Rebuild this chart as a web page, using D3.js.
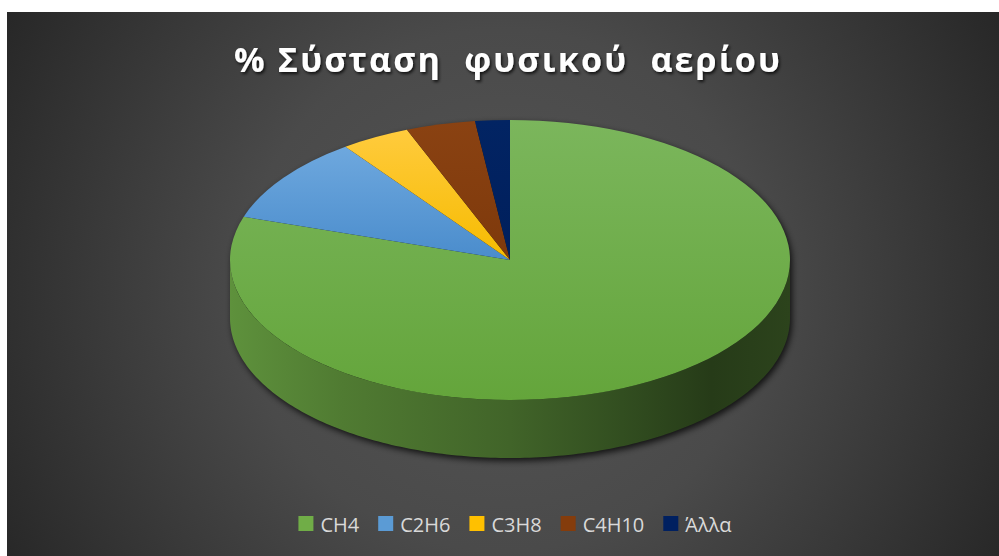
<!DOCTYPE html>
<html>
<head>
<meta charset="utf-8">
<script src="https://cdn.jsdelivr.net/npm/d3@7"></script>
<style>
  html, body { margin: 0; padding: 0; background: #ffffff; }
  svg { display: block; }
</style>
</head>
<body>
<svg id="chart" width="999" height="556"></svg>
<script>
// Natural gas composition (%)
const categories = ["CH4", "C2H6", "C3H8", "C4H10", "Άλλα"];
const values = [80, 10, 4, 4, 2];
const colors = ["#70ad47", "#5b9bd5", "#ffc000", "#843c0c", "#002060"];
const topLight = ["#7bb65c", "#6ea8de", "#ffcb3d", "#8a4212", "#022463"];
const topDark = ["#64a53b", "#4a8ccc", "#f6bb00", "#7e390b", "#001f5c"];
const title = "% Σύσταση  φυσικού  αερίου";

const W = 999, H = 556;
const area = { x: 7, y: 12, w: W - 7, h: H - 12 };
const pie3d = { cx: 510, cy: 260, rx: 280, ry: 140, depth: 58 };

// brightness of the side wall from left to right (lit from the left)
const sideShade = [[0, 0.84], [0.2, 0.71], [0.5, 0.58], [0.7, 0.45], [0.86, 0.34], [1, 0.39]];

const svg = d3.select("#chart");
const defs = svg.append("defs");

// background gradient
const bg = defs.append("radialGradient").attr("id", "bg")
  .attr("gradientUnits", "userSpaceOnUse")
  .attr("cx", 503).attr("cy", 290).attr("r", 580);
bg.append("stop").attr("offset", 0).attr("stop-color", "#555555");
bg.append("stop").attr("offset", 0.45).attr("stop-color", "#4a4a4a");
bg.append("stop").attr("offset", 1).attr("stop-color", "#262626");

svg.append("rect")
  .attr("x", area.x).attr("y", area.y)
  .attr("width", area.w).attr("height", area.h)
  .attr("fill", "url(#bg)");

// filters
const blur = defs.append("filter").attr("id", "pieShadow")
  .attr("x", "-10%").attr("y", "-10%").attr("width", "120%").attr("height", "130%");
blur.append("feGaussianBlur").attr("stdDeviation", 3);

const tShadow = defs.append("filter").attr("id", "titleShadow")
  .attr("x", "-5%").attr("y", "-30%").attr("width", "110%").attr("height", "160%");
tShadow.append("feDropShadow")
  .attr("dx", 1.5).attr("dy", 2).attr("stdDeviation", 1.5)
  .attr("flood-color", "#000").attr("flood-opacity", 0.75);

// title
svg.append("text")
  .attr("x", 507).attr("y", 72)
  .attr("text-anchor", "middle")
  .attr("font-family", "'Open Sans', 'Noto Sans', sans-serif")
  .attr("font-weight", 700)
  .attr("font-size", 34)
  .attr("fill", "#ffffff")
  .attr("textLength", 546)
  .attr("lengthAdjust", "spacing")
  .style("white-space", "pre")
  .attr("filter", "url(#titleShadow)")
  .text(title);

// pie geometry
const arcs = d3.pie().value(d => d).sort(null).startAngle(0).endAngle(2 * Math.PI)(values);
const proj = (a, dy = 0) => [pie3d.cx + pie3d.rx * Math.sin(a), pie3d.cy - pie3d.ry * Math.cos(a) + dy];
const line = d3.line();
const step = Math.PI / 180;

function sampled(a0, a1, dy) {
  const n = Math.max(2, Math.ceil((a1 - a0) / step));
  return d3.range(n + 1).map(i => proj(a0 + (a1 - a0) * i / n, dy));
}

// soft shadow under the cake
const silhouette = sampled(-Math.PI / 2, Math.PI / 2, 0)
  .concat(sampled(Math.PI / 2, 3 * Math.PI / 2, pie3d.depth));
svg.append("path")
  .attr("d", line(silhouette) + "Z")
  .attr("transform", "translate(2,3)")
  .attr("fill", "#000")
  .attr("opacity", 0.75)
  .attr("filter", "url(#pieShadow)");

// gradients for side walls and top faces
arcs.forEach((d, i) => {
  const c = d3.rgb(colors[i]);
  const g = defs.append("linearGradient").attr("id", "side" + i)
    .attr("gradientUnits", "userSpaceOnUse")
    .attr("x1", pie3d.cx - pie3d.rx).attr("x2", pie3d.cx + pie3d.rx)
    .attr("y1", 0).attr("y2", 0);
  sideShade.forEach(([o, f]) => {
    g.append("stop").attr("offset", o)
      .attr("stop-color", d3.rgb(c.r * f, c.g * f, c.b * f).formatHex());
  });

  const t = defs.append("linearGradient").attr("id", "top" + i)
    .attr("x1", 0).attr("y1", 0).attr("x2", 0).attr("y2", 1);
  t.append("stop").attr("offset", 0).attr("stop-color", topLight[i]);
  t.append("stop").attr("offset", 1).attr("stop-color", topDark[i]);
});

// outer side walls: only the front half (PI/2 .. 3PI/2) is visible
const sides = svg.append("g");
arcs.forEach((d, i) => {
  const a0 = Math.max(d.startAngle, Math.PI / 2);
  const a1 = Math.min(d.endAngle, 3 * Math.PI / 2);
  if (a1 <= a0) return;
  const pts = sampled(a0, a1, 0).concat(sampled(a0, a1, pie3d.depth).reverse());
  sides.append("path")
    .attr("d", line(pts) + "Z")
    .attr("fill", `url(#side${i})`);
});

// top faces
const arcGen = d3.arc().innerRadius(0).outerRadius(pie3d.rx);
svg.append("g")
  .attr("transform", `translate(${pie3d.cx},${pie3d.cy}) scale(1,${pie3d.ry / pie3d.rx})`)
  .selectAll("path")
  .data(arcs)
  .join("path")
  .attr("d", arcGen)
  .attr("fill", (d, i) => `url(#top${i})`);

// legend
const legend = svg.append("g");
const items = legend.selectAll("g").data(categories).join("g");
items.append("rect")
  .attr("width", 15).attr("height", 15)
  .attr("y", 516)
  .attr("fill", (d, i) => colors[i]);
items.append("text")
  .attr("x", 22).attr("y", 532)
  .attr("font-family", "'Open Sans', 'Noto Sans', sans-serif")
  .attr("font-size", 20)
  .attr("fill", "#d9d9d9")
  .text(d => d);

let x = 0;
const offsets = [];
items.each(function () {
  offsets.push(x);
  const w = d3.select(this).select("text").node().getComputedTextLength();
  x += 22 + w + 19;
});
const total = x - 19;
const x0 = 515 - total / 2;
items.attr("transform", (d, i) => `translate(${x0 + offsets[i]},0)`);
</script>
</body>
</html>
